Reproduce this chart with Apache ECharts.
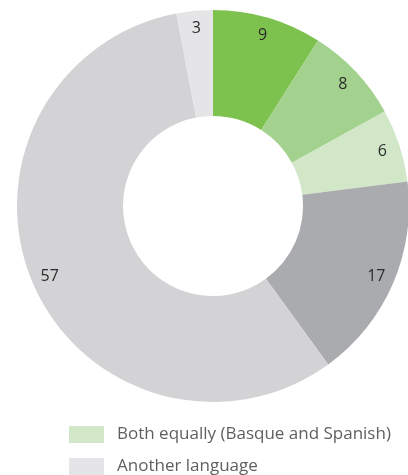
<!DOCTYPE html>
<html>
<head>
<meta charset="utf-8">
<script src="https://cdn.jsdelivr.net/npm/echarts@6/dist/echarts.min.js"></script>
<style>
  html, body { margin: 0; padding: 0; background: #fff; }
  #main { width: 408px; height: 475px; }
</style>
</head>
<body>
<div id="main"></div>
<script>
// slices, clockwise from 12 o'clock
var names = [
  'Basque',
  'More Basque than Spanish',
  'Both equally (Basque and Spanish)',
  'More Spanish than Basque',
  'Spanish',
  'Another language'
];
var values = [9, 8, 6, 17, 57, 3];
var colors = ['#7dc24f', '#a3d28e', '#d1e7c8', '#aaabae', '#d3d3d5', '#e5e5e7'];
// only these two show in the visible part of the legend
var legendNames = ['Both equally (Basque and Spanish)', 'Another language'];

var pieData = [];
for (var i = 0; i < values.length; i++) {
  pieData.push({ name: names[i], value: values[i], itemStyle: { color: colors[i] } });
}

// one legend per row so the last row can run off the bottom like the original
var legendTops = [426, 458];
var legends = legendNames.map(function (n, i) {
  return {
    data: [n],
    left: 69,
    top: legendTops[i],
    padding: 0,
    itemWidth: 35,
    itemHeight: 17,
    icon: 'rect',
    selectedMode: false,
    textStyle: { color: '#5f5f5f', fontSize: 17, fontFamily: 'Open Sans', padding: [0, 0, 0, 8] }
  };
});

var chart = echarts.init(document.getElementById('main'));
chart.setOption({
  backgroundColor: '#fff',
  animation: false,
  legend: legends,
  series: [
    {
      type: 'pie',
      center: [213, 206],
      radius: [90, 196],
      startAngle: 90,
      clockwise: true,
      silent: true,
      label: { show: false },
      labelLine: { show: false },
      data: pieData
    },
    {
      // label ring: transparent, only carries the numbers near the outer edge
      type: 'pie',
      center: [213, 206],
      radius: [154, 196],
      startAngle: 90,
      clockwise: true,
      silent: true,
      itemStyle: { color: 'rgba(0,0,0,0)' },
      label: {
        show: true,
        position: 'inside',
        formatter: '{c}',
        color: '#2b2b2b',
        fontSize: 16,
        fontFamily: 'Open Sans'
      },
      labelLine: { show: false },
      data: values.map(function (v, i) { return { name: names[i], value: v }; })
    }
  ]
});
</script>
</body>
</html>
